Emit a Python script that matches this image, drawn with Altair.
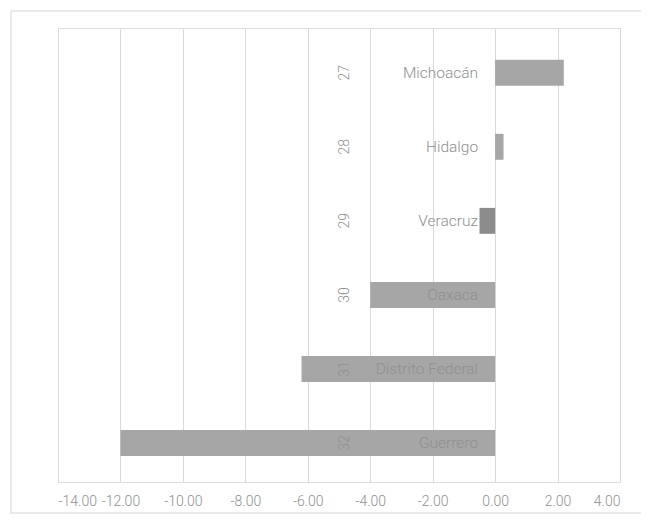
import altair as alt
import pandas as pd

states = ["Michoacán", "Hidalgo", "Veracruz", "Oaxaca", "Distrito Federal", "Guerrero"]
ranks = ["27", "28", "29", "30", "31", "32"]
values = [2.2, 0.27, -0.5, -4.0, -6.2, -12.0]
bar_colors = ["#a6a6a6", "#a6a6a6", "#8c8c8c", "#a6a6a6", "#a6a6a6", "#a6a6a6"]
x_ticks = [-14, -12, -10, -8, -6, -4, -2, 0, 2, 4]

df = pd.DataFrame({"estado": states, "rank": ranks, "valor": values,
                   "color": bar_colors, "cero": [0] * len(states)})

FONT = "Roboto"
GREY_TXT = "#8f8f8f"

y_enc = alt.Y("estado:N", sort=states, axis=None,
              scale=alt.Scale(paddingInner=0.65, paddingOuter=0.39, align=0.55))
x_scale = alt.Scale(domain=[-14, 4], nice=False)

base = alt.Chart(df)

bars = base.mark_bar().encode(
    x=alt.X("valor:Q", scale=x_scale, title=None,
            axis=alt.Axis(values=x_ticks, format=".2f", grid=True, gridColor="#d9d9d9",
                          labelExpr="replace(format(datum.value, '.2f'), '−', '-')",
                          gridWidth=1, domain=False, ticks=False, labelPadding=12,
                          labelFont=FONT, labelFontSize=14, labelFontWeight=300,
                          labelColor=GREY_TXT)),
    x2="cero:Q",
    y=y_enc,
    color=alt.Color("color:N", scale=None),
)

names = base.mark_text(align="right", baseline="middle", dx=-17, font=FONT,
                       fontSize=15.5, fontWeight=300, color=GREY_TXT).encode(
    x=alt.X("cero:Q", scale=x_scale),
    y=y_enc,
    text="estado:N",
)

nums = base.mark_text(align="center", baseline="middle", angle=270, dy=-150, font=FONT,
                      fontSize=14, fontWeight=300, color=GREY_TXT).encode(
    x=alt.X("cero:Q", scale=x_scale),
    y=y_enc,
    text="rank:N",
)

frame = alt.Chart(pd.DataFrame({"a": [0]})).mark_rect(
    fill=None, stroke="#e3e3e3", strokeWidth=1.5
).encode(
    x=alt.value(-47), x2=alt.value(700), y=alt.value(-17), y2=alt.value(485)
)

chart = alt.layer(frame, bars, names, nums).properties(
    width=562, height=454,
    autosize=alt.AutoSizeParams(type="none"),
    padding={"left": 50, "top": 20, "right": 21, "bottom": 32},
).configure_view(stroke=None).configure(background="white")

chart.save("out.html", embed_options={"renderer": "svg", "actions": False})
